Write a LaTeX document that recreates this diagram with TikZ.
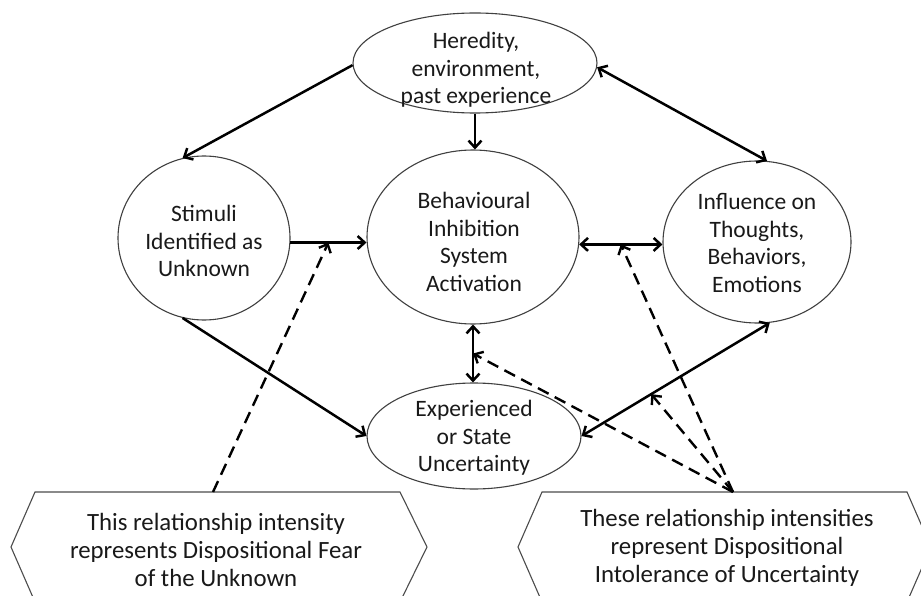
\documentclass[tikz,border=0pt]{standalone}
\usepackage{fontspec}
\setmainfont{Carlito}
\usetikzlibrary{shapes.geometric,arrows.meta}
\begin{document}
\begin{tikzpicture}[x=1pt,y=-1pt,
  ell/.style={draw=black!75,line width=1.1pt,ellipse,inner sep=0pt},
  txt/.style={align=center,inner sep=0pt,text=black!90,font=\fontsize{23.5}{27.5}\selectfont},
  htxt/.style={align=center,inner sep=0pt,text=black!90,font=\fontsize{24.8}{28}\selectfont},
  arr/.style={line width=2.5pt,-{Straight Barb[length=7pt,width=13pt]}},
  darr/.style={line width=2.5pt,{Straight Barb[length=7pt,width=13pt]}-{Straight Barb[length=7pt,width=13pt]}},
  dsh/.style={line width=2.4pt,dash pattern=on 12pt off 7pt,-{Straight Barb[length=7pt,width=13pt]}},
  hex/.style={draw=black!70,line width=1.1pt}]
\clip (0,0) rectangle (921,596);
\fill[white] (0,0) rectangle (921,596);
% ellipses
\node[ell,minimum width=244,minimum height=100] (T) at (475,63) {};
\node[ell,minimum width=172,minimum height=164] (S) at (204,238) {};
\node[ell,minimum width=212,minimum height=174] (C) at (473,237) {};
\node[ell,minimum width=188,minimum height=162] (R) at (757,242) {};
\node[ell,minimum width=214,minimum height=106] (E) at (474,436) {};
% texts
\node[txt] (Tt) at (476,70) {Heredity,\\environment,\\past experience};
\node[txt] (St) at (204,241) {Stimuli\\Identified as\\Unknown};
\node[txt] (Ct) at (474,242) {Behavioural\\Inhibition\\System\\Activation};
\node[txt] (Rt) at (757,243) {Influence on\\Thoughts,\\Behaviors,\\Emotions};
\node[txt] (Et) at (474,438) {Experienced\\or State\\Uncertainty};
% hexagons
\draw[hex] (11,547) -- (35,492) -- (400,492) -- (427,547) -- (400,602) -- (35,602) -- cycle;
\draw[hex] (518,547) -- (542,492) -- (907,492) -- (931,547) -- (907,602) -- (542,602) -- cycle;
\coordinate (LH) at (213,492);
\coordinate (RH) at (733,492);
\node[htxt] (Lt) at (216,550) {This relationship intensity\\represents Dispositional Fear\\of the Unknown};
\node[htxt] (Rht) at (727,548) {These relationship intensities\\represent Dispositional\\Intolerance of Uncertainty};
% solid arrows
\draw[arr] (T.181) -- (S.105);
\draw[arr] (T.south) -- (T.south |- C.north);
\draw[darr] (T.-2) -- (R.83);
\draw[arr] (S.-3) -- coordinate (m4) (C.west |- S.-3);
\draw[darr] (C.-4) -- coordinate (m5) (R.west |- C.-4);
\draw[darr] (C.south) -- coordinate (m6) (C.south |- E.north);
\draw[arr] (S.-105) -- (E.west);
\draw[darr] (R.-81) -- coordinate[pos=0.63] (m8) (E.east);
% dashed arrows
\draw[dsh] (LH) -- (m4);
\draw[dsh] (RH) -- (m5);
\draw[dsh] (RH) -- (m6);
\draw[dsh] (RH) -- (m8);
\end{tikzpicture}
\end{document}
